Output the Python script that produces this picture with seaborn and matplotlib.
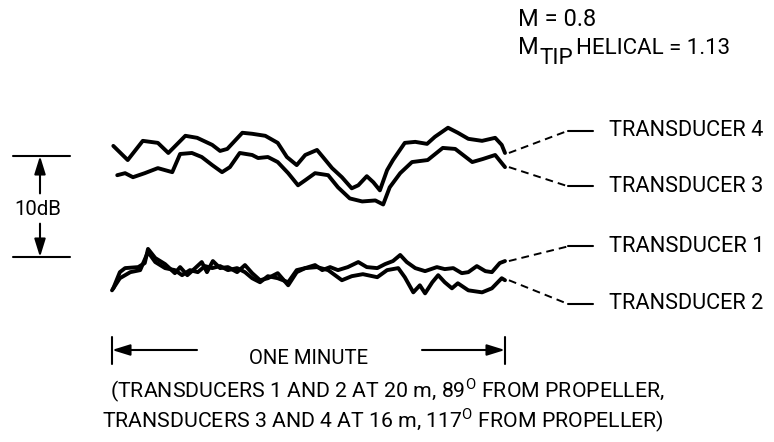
import numpy as np
import pandas as pd
import matplotlib
matplotlib.use("Agg")
import matplotlib.pyplot as plt
import seaborn as sns

# ---------------- data (time in seconds, level in dB) ----------------
t4_time = [0.2, 2.4, 4.7, 7.0, 8.6, 11.2, 13.0, 15.3, 16.5, 17.6, 19.9, 21.4, 23.4,
           25.3, 26.7, 28.2, 29.5, 31.3, 32.2, 33.6, 35.1, 36.6, 37.6, 38.9, 39.9,
           40.9, 42.0, 42.9, 44.7, 46.3, 48.1, 49.3, 51.3, 52.8, 54.4, 56.5, 58.5,
           59.5, 60.0]
t4_level = [11.0, 9.6, 11.5, 11.3, 10.3, 12.0, 11.8, 11.1, 10.5, 10.7, 12.3, 12.2, 12.0,
            11.3, 9.9, 9.1, 10.1, 10.6, 9.9, 8.8, 7.9, 6.8, 7.1, 8.0, 7.4,
            6.6, 8.6, 9.6, 11.3, 11.4, 11.2, 11.9, 12.8, 12.3, 11.7, 11.5, 11.8,
            11.1, 10.3]

t3_time = [0.8, 2.0, 3.2, 5.0, 7.0, 9.2, 10.4, 12.2, 13.7, 15.3, 16.8, 18.0, 19.5,
           21.4, 22.3, 23.8, 25.3, 26.9, 28.4, 29.5, 31.0, 33.0, 34.5, 36.3, 38.2,
           40.2, 41.4, 42.4, 44.0, 45.8, 48.2, 50.5, 52.4, 55.0, 56.6, 58.5, 60.0]
t3_level = [8.1, 8.3, 7.9, 8.3, 8.8, 8.4, 10.2, 10.3, 9.9, 9.1, 8.4, 8.9, 10.3,
            10.1, 9.8, 9.9, 9.4, 8.3, 7.1, 7.6, 8.3, 8.1, 6.9, 5.8, 5.5,
            5.6, 5.2, 6.9, 8.3, 9.4, 9.6, 10.8, 10.7, 9.4, 9.7, 10.1, 8.9]

t1_time = [0.2, 1.2, 2.0, 4.0, 5.0, 5.5, 6.6, 8.1, 9.6, 10.4, 11.5, 12.7, 13.7,
           14.5, 15.4, 16.5, 17.7, 19.1, 20.3, 21.4, 22.6, 23.8, 25.3, 26.9, 28.2,
           29.5, 31.0, 32.1, 33.3, 34.5, 36.0, 37.6, 38.9, 40.5, 41.7, 42.9, 44.0,
           45.0, 46.3, 47.8, 49.6, 50.8, 52.1, 53.4, 54.4, 55.7, 57.0, 58.0, 59.2,
           60.0]
t1_level = [-3.1, -1.5, -1.1, -1.0, -0.6, 0.8, -0.1, -0.7, -1.6, -1.0, -1.8, -1.1, -0.5,
            -1.5, -0.4, -1.1, -1.0, -1.5, -0.8, -1.6, -2.3, -2.1, -1.6, -2.8, -1.5,
            -1.1, -0.8, -1.3, -1.0, -1.3, -1.0, -0.5, -1.0, -1.1, -0.7, -0.4, 0.2,
            -0.5, -1.1, -1.4, -1.0, -1.2, -1.1, -1.6, -1.5, -0.9, -1.4, -1.5, -0.6,
            -0.4]

t2_time = [0.0, 1.2, 2.8, 4.3, 5.5, 6.6, 8.1, 9.6, 10.7, 11.9, 13.1, 14.2, 15.3,
           16.5, 17.7, 19.1, 20.3, 21.4, 22.6, 23.8, 25.3, 26.9, 28.2, 29.5, 31.3,
           33.0, 35.1, 36.6, 38.3, 40.5, 42.0, 43.7, 44.7, 46.0, 47.0, 47.8, 48.9,
           49.8, 50.8, 51.9, 52.8, 54.4, 56.5, 58.0, 59.5, 60.0]
t2_level = [-3.3, -2.1, -1.5, -1.3, 0.5, -0.5, -1.1, -1.3, -1.8, -1.3, -1.5, -0.9, -1.1,
            -0.9, -1.3, -1.1, -1.5, -2.1, -2.5, -1.9, -2.1, -2.5, -1.3, -1.1, -1.0,
            -1.3, -2.3, -1.9, -1.7, -2.0, -1.3, -1.1, -2.0, -3.5, -2.8, -3.6, -2.5,
            -1.8, -2.5, -3.1, -2.6, -3.3, -3.5, -3.1, -2.1, -2.3]

trace_names = ["TRANSDUCER 4", "TRANSDUCER 3", "TRANSDUCER 1", "TRANSDUCER 2"]
label_levels = [12.5, 7.0, 1.05, -4.65]      # where each label sits (dB)

scale_db = 10          # reference bracket height
minute_s = 60          # time-scale bar length

title_line1 = "M = 0.8"
title_m = "M"
title_sub = "TIP"
title_rest = "HELICAL = 1.13"
note_lines = [r"(TRANSDUCERS 1 AND 2 AT 20 m, 89$^{\mathrm{O}}$ FROM PROPELLER,",
              r"TRANSDUCERS 3 AND 4 AT 16 m, 117$^{\mathrm{O}}$ FROM PROPELLER)"]

# ---------------- style ----------------
sns.set_theme(style="white")
plt.rcParams['font.family'] = ['Roboto', 'DejaVu Sans']
plt.rcParams['text.color'] = 'black'
plt.rcParams['mathtext.fontset'] = 'custom'
plt.rcParams['mathtext.rm'] = 'Roboto'

W, H = 774, 442
fig = plt.figure(figsize=(W / 100, H / 100), dpi=100)
ax = fig.add_axes([0, 0, 1, 1])
PX_PER_S = 6.55
PX_PER_DB = 10.1
X0, Y0 = 112, 257
ax.set_xlim(-X0 / PX_PER_S, (W - X0) / PX_PER_S)
ax.set_ylim((Y0 - H) / PX_PER_DB, Y0 / PX_PER_DB)
ax.axis('off')


def D(px, py):
    """pixel layout position -> data coords"""
    return (px - X0) / PX_PER_S, (Y0 - py) / PX_PER_DB


frames = []
for name, tt, ll in zip(trace_names, [t4_time, t3_time, t1_time, t2_time],
                        [t4_level, t3_level, t1_level, t2_level]):
    frames.append(pd.DataFrame({"time": tt, "level": ll, "trace": name}))
df = pd.concat(frames, ignore_index=True)

sns.lineplot(data=df, x="time", y="level", units="trace", estimator=None, sort=False,
             color="black", lw=2.8, ax=ax, legend=False,
             solid_joinstyle="round", solid_capstyle="round")

# ---------------- leader lines + labels ----------------
fit = []
ends = [(t4_time, t4_level), (t3_time, t3_level), (t1_time, t1_level), (t2_time, t2_level)]
for name, (tt, ll), lab in zip(trace_names, ends, label_levels):
    xs = tt[-1] + 0.6
    ys = ll[-1]
    xk, _ = D(568, 0)
    xe, _ = D(593, 0)
    ax.plot([xs, xk], [ys, lab], color="black", lw=1.4, ls=(0, (4, 2.6)))
    ax.plot([xk, xe], [lab, lab], color="black", lw=1.5)
    xl, _ = D(609, 0)
    t = ax.text(xl, lab, name, ha="left", va="center", fontsize=16, color="black")
    fit.append((t, 155))

# ---------------- 10 dB bracket ----------------
bx0, _ = D(13, 0)
bx1, _ = D(70, 0)
bxa, _ = D(40, 0)
ax.plot([bx0, bx1], [scale_db, scale_db], color="black", lw=1.5)
ax.plot([bx0, bx1], [0, 0], color="black", lw=1.5)
arrow_kw = dict(arrowstyle="-|>,head_length=0.9,head_width=0.28", color="black", lw=1.5,
                shrinkA=0, shrinkB=0, mutation_scale=12)
ax.annotate("", xy=(bxa, scale_db), xytext=(bxa, scale_db * 0.63), arrowprops=arrow_kw)
ax.annotate("", xy=(bxa, 0), xytext=(bxa, scale_db * 0.33), arrowprops=arrow_kw)
t = ax.text(D(38, 0)[0], scale_db * 0.47, "10dB", ha="center", va="center", fontsize=16,
            color="black")
fit.append((t, 47))

# ---------------- one-minute bar ----------------
_, ytop = D(0, 337)
_, ybot = D(0, 364)
_, yarr = D(0, 350)
ax.plot([0, 0], [ytop, ybot], color="black", lw=1.5)
ax.plot([minute_s, minute_s], [ytop, ybot], color="black", lw=1.5)
ax.annotate("", xy=(0, yarr), xytext=(D(197, 0)[0], yarr), arrowprops=arrow_kw)
ax.annotate("", xy=(minute_s, yarr), xytext=(D(422, 0)[0], yarr), arrowprops=arrow_kw)
t = ax.text(minute_s / 2, D(0, 359)[1], "ONE MINUTE", ha="center", va="center", fontsize=16,
            color="black")
fit.append((t, 120))

t_note = ax.text(*D(664, 406), "\n".join(note_lines), ha="right", va="center",
                 multialignment="right", linespacing=1.05, fontsize=16, color="black")
fit.append((t_note, 562))

# ---------------- top annotation ----------------
t_top = ax.text(*D(518, 20), title_line1, ha="left", va="center", fontsize=16, color="black")
fit.append((t_top, 78))
t_m = ax.text(*D(518, 48), title_m, ha="left", va="center", fontsize=16, color="black")
t_sub = ax.text(*D(539, 58), title_sub, ha="left", va="center", fontsize=16, color="black")
t_rest = ax.text(*D(576, 48), title_rest, ha="left", va="center", fontsize=16, color="black")
fit.append((t_rest, 154))

# fit font sizes to measured widths
for _ in range(3):
    fig.canvas.draw()
    r = fig.canvas.get_renderer()
    for txt, wpx in fit:
        w = txt.get_window_extent(r).width
        txt.set_fontsize(txt.get_fontsize() * wpx / w)
fs = t_top.get_fontsize()
t_m.set_fontsize(fs)
t_sub.set_fontsize(fs * 0.95)

fig.savefig("out.png", dpi=100)
